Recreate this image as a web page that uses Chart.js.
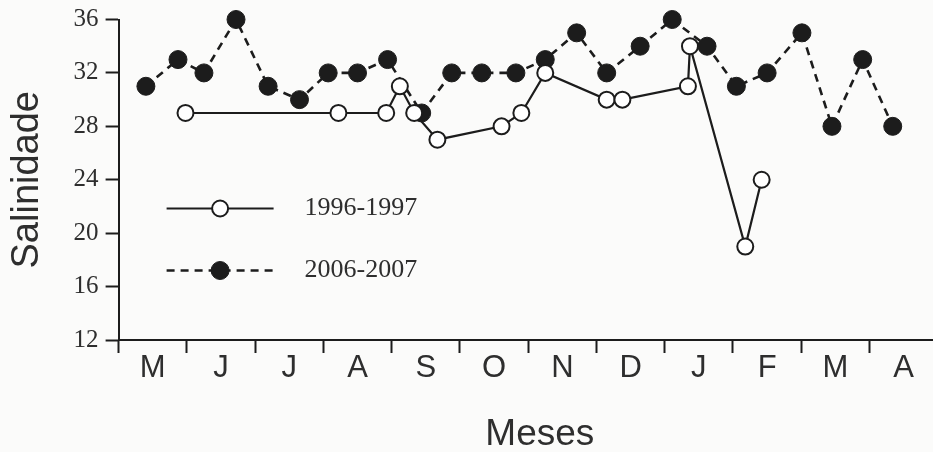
<!DOCTYPE html>
<html>
<head>
<meta charset="utf-8">
<script src="https://cdn.jsdelivr.net/npm/chart.js@4.4.1/dist/chart.umd.min.js"></script>
<style>
  html, body { margin: 0; padding: 0; background: #fbfbfa; }
  canvas { display: block; }
</style>
</head>
<body>
<canvas id="c" width="933" height="452"></canvas>
<script>
// Month initials along the time axis (May to April)
const monthLabels = ['M', 'J', 'J', 'A', 'S', 'O', 'N', 'D', 'J', 'F', 'M', 'A'];
const yTicks = [12, 16, 20, 24, 28, 32, 36];
const seriesNames = ['1996-1997', '2006-2007'];
const xTitle = 'Meses';
const yTitle = 'Salinidade';

// Sampling dates, in months since the start of May
const months1996 = [0.98, 3.22, 3.92, 4.12, 4.33, 4.67, 5.61, 5.90, 6.25, 7.15, 7.38, 8.34, 8.37, 9.18, 9.42];
const salinity1996 = [29, 29, 29, 31, 29, 27, 28, 29, 32, 30, 30, 31, 34, 19, 24];

const months2006 = [0.40, 0.87, 1.25, 1.72, 2.19, 2.65, 3.07, 3.50, 3.94, 4.44, 4.88, 5.32, 5.82,
                    6.25, 6.71, 7.15, 7.64, 8.11, 8.62, 9.05, 9.50, 10.01, 10.45, 10.90, 11.34];
const salinity2006 = [31, 33, 32, 36, 31, 30, 32, 32, 33, 29, 32, 32, 32,
                      33, 35, 32, 34, 36, 34, 31, 32, 35, 28, 33, 28];

const INK = '#1c1c1c';
const TEXT = '#2e2e2e';

const toPoints = (xs, ys) => xs.map((x, i) => ({ x, y: ys[i] }));

// Legend drawn inside the plot (line sample with marker, then the label),
// plus the x-axis title set a little right of the plot centre
const annotations = {
  id: 'annotations',
  afterDatasetsDraw(chart) {
    const { ctx, chartArea } = chart;
    const x0 = chartArea.left + 48;
    const x1 = chartArea.left + 155;
    const rows = [chartArea.top + 189, chartArea.top + 251];
    chart.data.datasets.forEach((ds, i) => {
      const y = rows[i];
      ctx.save();
      ctx.strokeStyle = ds.borderColor;
      ctx.lineWidth = ds.borderWidth;
      ctx.setLineDash(ds.borderDash || []);
      ctx.beginPath();
      ctx.moveTo(x0, y);
      ctx.lineTo(x1, y);
      ctx.stroke();
      ctx.setLineDash([]);
      ctx.beginPath();
      ctx.arc((x0 + x1) / 2, y, ds.pointRadius, 0, Math.PI * 2);
      ctx.fillStyle = ds.pointBackgroundColor;
      ctx.fill();
      ctx.lineWidth = ds.pointBorderWidth;
      ctx.strokeStyle = ds.pointBorderColor;
      ctx.stroke();
      ctx.fillStyle = TEXT;
      ctx.font = '26px "Liberation Serif"';
      ctx.textBaseline = 'middle';
      ctx.fillText(ds.label, chartArea.left + 186, y);
      ctx.restore();
    });

    ctx.save();
    ctx.fillStyle = TEXT;
    ctx.font = '37px "Liberation Sans"';
    ctx.textAlign = 'center';
    ctx.textBaseline = 'alphabetic';
    ctx.fillText(xTitle, (chartArea.left + chartArea.right) / 2 + 14, chartArea.bottom + 105);
    ctx.restore();
  }
};

new Chart(document.getElementById('c'), {
  type: 'line',
  data: {
    datasets: [
      {
        label: seriesNames[0],
        data: toPoints(months1996, salinity1996),
        borderColor: INK,
        borderWidth: 2.2,
        pointRadius: 8,
        pointBorderWidth: 2,
        pointBackgroundColor: '#ffffff',
        pointBorderColor: INK,
        tension: 0,
        clip: false
      },
      {
        label: seriesNames[1],
        data: toPoints(months2006, salinity2006),
        borderColor: INK,
        borderWidth: 2.6,
        borderDash: [8, 6],
        pointRadius: 9,
        pointBorderWidth: 1,
        pointBackgroundColor: INK,
        pointBorderColor: INK,
        tension: 0,
        clip: false
      }
    ]
  },
  options: {
    responsive: false,
    animation: false,
    layout: { autoPadding: false, padding: { left: 0, top: 0, right: 0, bottom: 68 } },
    plugins: { legend: { display: false }, tooltip: { enabled: false } },
    scales: {
      x: {
        type: 'linear',
        min: 0,
        max: 11.93,
        afterBuildTicks: (s) => {
          const t = [];
          for (let k = 0; k < monthLabels.length * 2; k++) t.push({ value: k / 2 });
          s.ticks = t;
        },
        ticks: {
          autoSkip: false,
          maxRotation: 0,
          callback: (v) => (Number.isInteger(v) ? '' : monthLabels[Math.floor(v)]),
          font: { family: '"Liberation Sans"', size: 31, lineHeight: 1 },
          color: TEXT,
          padding: 0
        },
        grid: {
          drawOnChartArea: false,
          tickLength: 13,
          tickWidth: 2,
          tickColor: (ctx) => (ctx.tick && Number.isInteger(ctx.tick.value) ? INK : 'rgba(0,0,0,0)')
        },
        border: { color: INK, width: 2 }
      },
      y: {
        min: 12,
        max: 36,
        afterBuildTicks: (s) => { s.ticks = yTicks.map((v) => ({ value: v })); },
        ticks: {
          font: { family: '"Liberation Serif"', size: 25, lineHeight: 1 },
          color: TEXT,
          padding: 7
        },
        grid: { drawOnChartArea: false, tickLength: 13, tickWidth: 2, tickColor: INK },
        border: { color: INK, width: 2 },
        title: {
          display: true,
          text: yTitle,
          font: { family: '"Liberation Sans"', size: 38 },
          color: TEXT,
          padding: { top: 5, bottom: 16 }
        }
      }
    }
  },
  plugins: [annotations]
});
</script>
</body>
</html>
